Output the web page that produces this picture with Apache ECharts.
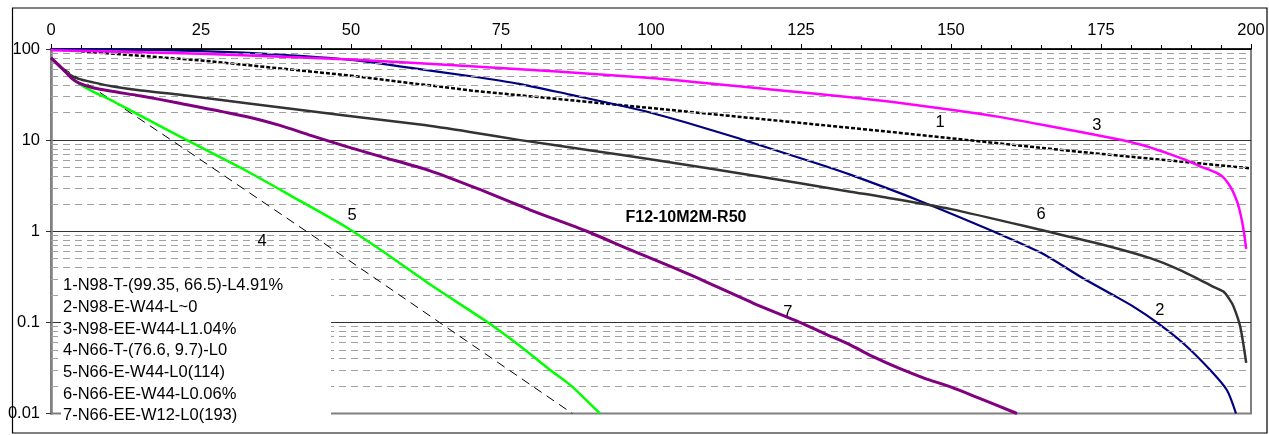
<!DOCTYPE html>
<html>
<head>
<meta charset="utf-8">
<script src="https://cdn.jsdelivr.net/npm/echarts@6/dist/echarts.min.js"></script>
<style>
  html, body { margin: 0; padding: 0; background: #fff; }
  #chart { width: 1269px; height: 435px; }
</style>
</head>
<body>
<div id="chart"></div>
<script>
// curves as [x, value] pairs
const curve1 = [[0, 100], [25, 75], [50, 51], [70, 35], [100, 22.5], [140, 12.3], [170, 7.6], [200, 4.9]]
const curve2 = [[0, 100], [12, 98.5], [25, 94.6], [38, 87], [50, 76], [60, 62], [70, 50.2], [78, 41.5], [86.5, 31.6], [94.5, 24.3], [100, 20],
  [106, 15.5], [114.3, 10.6], [117, 9.3], [128.2, 5.4], [133.2, 4.18], [144.3, 2.22], [157, 1.0], [165, 0.58], [172, 0.305],
  [177, 0.2], [180.4, 0.149], [184.3, 0.1], [188.7, 0.059], [193.2, 0.03], [196, 0.018], [197.5, 0.01]]
const curve3 = [[0, 97], [25, 88.5], [50, 76.7], [70, 64.7], [100, 48.2], [120, 36], [133.2, 29.5], [140, 26.3], [150, 21.6],
  [158, 18], [166.5, 14.2], [177.6, 10.3], [182, 8.8], [186, 7.2], [189, 6.1], [191.5, 5.15], [193, 4.75], [194.3, 4.36],
  [195.3, 3.95], [196, 3.5], [196.6, 3.05], [197.1, 2.63], [197.7, 2.1], [198.3, 1.5], [198.8, 1.0], [199.2, 0.64]]
const curve4 = [[0, 80], [2.3, 60], [8.7, 31.6], [22.9, 7.5], [44.6, 0.81], [86.9, 0.01]]
const curve5 = [[0, 80], [2.3, 57], [4.6, 42], [7, 34], [9.5, 28.5], [16, 17], [22.9, 9.8], [32.3, 4.7], [40, 2.45], [49.5, 1.08],
  [56, 0.56], [63.2, 0.26], [72.6, 0.102], [78, 0.056], [83.2, 0.03], [86.5, 0.0206], [89, 0.0145], [91.5, 0.01]]
const curve6 = [[0, 80], [1.2, 68], [2.3, 57], [3.4, 51], [4.6, 47], [7, 43], [10.1, 39], [15, 35], [21.2, 31.6], [32.3, 25.6],
  [49, 18.6], [61.5, 14.8], [69.8, 12.3], [78.2, 10], [90, 7.7], [100.4, 6.1], [117, 4.1], [133.2, 2.72], [138.7, 2.38],
  [150, 1.75], [165.9, 1.0], [175, 0.72], [183.2, 0.507], [188, 0.38], [191.5, 0.293], [193.5, 0.25], [195.4, 0.218],
  [196.4, 0.18], [197.1, 0.149], [198.2, 0.09], [199.2, 0.036]]
const curve7 = [[0, 80], [1.2, 67], [2.3, 57], [3.4, 48], [4.6, 42.5], [7, 37.5], [10.1, 34.4], [15, 30.5], [21.2, 25.6],
  [32.3, 18.3], [38, 14.6], [43.4, 11.2], [49, 8.6], [55, 6.6], [63.2, 4.6], [71, 2.95], [79.8, 1.72], [89.3, 1.0],
  [96.5, 0.627], [105.9, 0.347], [117, 0.163], [124.8, 0.1], [129, 0.075], [133.2, 0.0566], [137, 0.042], [141.5, 0.031],
  [145.5, 0.0245], [149.8, 0.0197], [155.4, 0.0141], [161, 0.01]]

const curveNames = ['1', '2', '3', '4', '5', '6', '7']
// where the number of each curve sits, in data units
const curveLabelAt = [[148.2, 15.6], [184.8, 0.134], [174.3, 14.4], [35.2, 0.77], [50.2, 1.48], [165, 1.52], [122.8, 0.13]]

const legendLines = [
  '1-N98-T-(99.35, 66.5)-L4.91%',
  '2-N98-E-W44-L~0',
  '3-N98-EE-W44-L1.04%',
  '4-N66-T-(76.6, 9.7)-L0',
  '5-N66-E-W44-L0(114)',
  '6-N66-EE-W44-L0.06%',
  '7-N66-EE-W12-L0(193)',
]
const chartTitle = 'F12-10M2M-R50'

const xTicks = { min: 0, max: 200, interval: 25 }
const yDecades = [0.01, 0.1, 1, 10]
const yMinorSteps = [2, 3, 4, 5, 6, 7, 8, 9]

const FONT = '"Liberation Sans", Arial, sans-serif'

// minor dashed grid lines 2..9 in every decade
const minorGrid = []
yDecades.forEach(d => yMinorSteps.forEach(s => minorGrid.push({ yAxis: +(d * s).toPrecision(3) })))

const styles = [
  { color: '#000000', width: 2.5, type: [4, 2], smooth: false },
  { color: '#000080', width: 2.2, type: 'solid', smooth: 0.25 },
  { color: '#ff00ff', width: 2.5, type: 'solid', smooth: 0.25 },
  { color: '#000000', width: 1, type: [9, 6], smooth: false },
  { color: '#00ff00', width: 2.5, type: 'solid', smooth: 0.25 },
  { color: '#333333', width: 2.5, type: 'solid', smooth: 0.25 },
  { color: '#800080', width: 3, type: 'solid', smooth: 0.25 },
]
const curves = [curve1, curve2, curve3, curve4, curve5, curve6, curve7]

const chart = echarts.init(document.getElementById('chart'))

chart.setOption({
  animation: false,
  backgroundColor: '#fff',
  textStyle: { fontFamily: FONT },
  grid: {
    left: 51, top: 49, width: 1200, height: 364.5,
    show: true, borderColor: '#808080', borderWidth: 2,
  },
  title: {
    text: chartTitle,
    left: 681, top: 205, textAlign: 'center',
    textStyle: { fontFamily: FONT, fontSize: 16, fontWeight: 'bold', color: '#000' },
  },
  xAxis: {
    type: 'value',
    position: 'top',
    min: xTicks.min, max: xTicks.max, interval: xTicks.interval,
    axisLine: { lineStyle: { color: '#000', width: 1.5 } },
    axisTick: { show: true, length: 5, lineStyle: { color: '#000' } },
    minorTick: { show: true, splitNumber: 5, length: 4, lineStyle: { color: '#000' } },
    axisLabel: { color: '#000', fontSize: 16.5, fontFamily: FONT, margin: 10 },
    splitLine: { show: false },
  },
  yAxis: {
    type: 'log',
    logBase: 10,
    min: 0.01, max: 100,
    axisLine: { show: true, lineStyle: { color: '#808080', width: 2.5 } },
    axisTick: { show: true, length: 5, lineStyle: { color: '#333' } },
    axisLabel: {
      color: '#000', fontSize: 16.5, fontFamily: FONT, margin: 11,
      formatter: v => String(+(+v).toPrecision(2)),
    },
    splitLine: { show: true, lineStyle: { color: ['#808080', '#333', '#333', '#333', '#000'], width: 1 } },
  },
  series: [
    {
      type: 'line',
      z: 1,
      silent: true,
      data: [],
      markLine: {
        silent: true, symbol: 'none', animation: false,
        label: { show: false },
        lineStyle: { color: '#a0a0a0', width: 1, type: [7, 5] },
        data: minorGrid,
      },
    },
    ...curves.map((c, i) => ({
      name: curveNames[i],
      type: 'line',
      z: 3 + i,
      symbol: 'none',
      smooth: styles[i].smooth,
      lineStyle: { color: styles[i].color, width: styles[i].width, type: styles[i].type, join: 'round' },
      data: c,
      markPoint: {
        symbol: 'circle', symbolSize: 0, silent: true,
        label: { show: true, formatter: curveNames[i], color: '#000', fontSize: 16.5, fontFamily: FONT },
        data: [{ coord: curveLabelAt[i] }],
      },
    })),
  ],
  graphic: [
    {
      type: 'rect', z: 100,
      shape: { x: 61, y: 274, width: 270, height: 155 },
      style: { fill: '#fff' },
    },
    {
      type: 'text', z: 101,
      x: 63, y: 275,
      style: {
        text: legendLines.join('\n'),
        font: '16.5px ' + FONT,
        lineHeight: 21.67,
        fill: '#000',
      },
    },
    {
      type: 'rect', z: 102,
      shape: { x: 12.5, y: 8, width: 1254.5, height: 425 },
      style: { fill: 'none', stroke: '#000', lineWidth: 1.2 },
    },
  ],
})
</script>
</body>
</html>
